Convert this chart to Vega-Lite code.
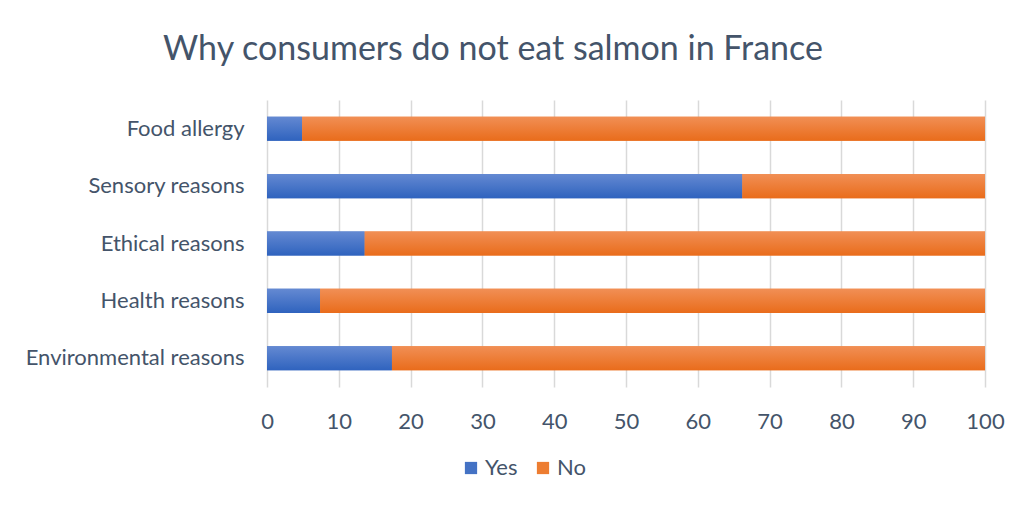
{
  "$schema": "https://vega.github.io/schema/vega-lite/v6.json",
  "width": 718,
  "height": 287,
  "autosize": {"type": "none"},
  "padding": {"left": 267, "top": 100, "right": 47, "bottom": 121},
  "background": "white",
  "title": {
    "text": "Why consumers do not eat salmon in France",
    "font": "Lato",
    "fontSize": 34,
    "fontWeight": "normal",
    "color": "#44546A",
    "anchor": "middle",
    "frame": "group",
    "dx": -133,
    "offset": 33
  },
  "data": {
    "values": [
      {"reason": "Food allergy", "answer": "Yes", "value": 4.9},
      {"reason": "Food allergy", "answer": "No", "value": 95.1},
      {"reason": "Sensory reasons", "answer": "Yes", "value": 66.2},
      {"reason": "Sensory reasons", "answer": "No", "value": 33.8},
      {"reason": "Ethical reasons", "answer": "Yes", "value": 13.6},
      {"reason": "Ethical reasons", "answer": "No", "value": 86.4},
      {"reason": "Health reasons", "answer": "Yes", "value": 7.4},
      {"reason": "Health reasons", "answer": "No", "value": 92.6},
      {"reason": "Environmental reasons", "answer": "Yes", "value": 17.4},
      {"reason": "Environmental reasons", "answer": "No", "value": 82.6}
    ]
  },
  "encoding": {
    "y": {
      "field": "reason",
      "type": "nominal",
      "sort": ["Food allergy", "Sensory reasons", "Ethical reasons", "Health reasons", "Environmental reasons"],
      "scale": {"paddingInner": 0.58, "paddingOuter": 0.29},
      "axis": {
        "title": null,
        "ticks": false,
        "domain": false,
        "labelFont": "Lato",
        "labelFontSize": 22,
        "labelColor": "#44546A",
        "labelPadding": 23,
        "labelLimit": 400
      }
    },
    "x": {
      "field": "value",
      "type": "quantitative",
      "stack": "zero",
      "scale": {"domain": [0, 100], "nice": false},
      "axis": {
        "title": null,
        "values": [0, 10, 20, 30, 40, 50, 60, 70, 80, 90, 100],
        "ticks": false,
        "domain": false,
        "grid": true,
        "gridColor": "#D9D9D9",
        "gridWidth": 1.5,
        "labelFont": "Lato",
        "labelFontSize": 22,
        "labelColor": "#44546A",
        "labelPadding": 24,
        "labelFlush": false
      }
    },
    "order": {"field": "answer", "sort": "descending"}
  },
  "layer": [
    {
      "mark": {"type": "bar"},
      "encoding": {
        "color": {
          "field": "answer",
          "type": "nominal",
          "scale": {"domain": ["Yes", "No"], "range": ["#4472C4", "#ED7D31"]},
          "legend": {
            "title": null,
            "orient": "none",
            "direction": "horizontal",
            "legendX": 193,
            "legendY": 357,
            "symbolType": "square",
            "symbolSize": 150,
            "symbolOpacity": 1,
            "symbolStrokeWidth": 0,
            "labelFont": "Lato",
            "labelFontSize": 22,
            "labelColor": "#44546A",
            "columnPadding": 14,
            "labelOffset": 3
          }
        }
      }
    },
    {
      "mark": {"type": "bar"},
      "encoding": {
        "fill": {
          "condition": {
            "test": "datum.answer === 'Yes'",
            "value": {
              "gradient": "linear", "x1": 0, "y1": 0, "x2": 0, "y2": 1,
              "stops": [{"offset": 0, "color": "#6489D2"}, {"offset": 1, "color": "#2F63BE"}]
            }
          },
          "value": {
            "gradient": "linear", "x1": 0, "y1": 0, "x2": 0, "y2": 1,
            "stops": [{"offset": 0, "color": "#F18F55"}, {"offset": 1, "color": "#E96C1B"}]
          }
        }
      }
    }
  ],
  "config": {"view": {"stroke": null}}
}
